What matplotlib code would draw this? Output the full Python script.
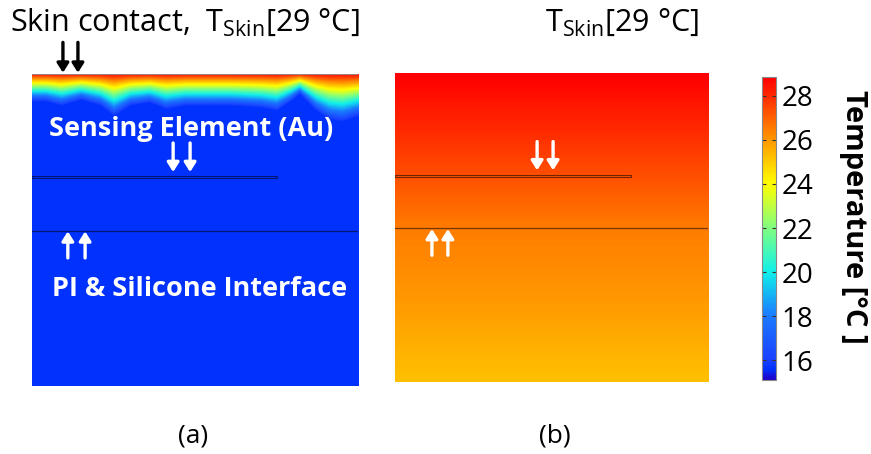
import numpy as np
import matplotlib
matplotlib.use("Agg")
import matplotlib.pyplot as plt
from matplotlib.colors import LinearSegmentedColormap, Normalize
from matplotlib.patches import Rectangle

plt.rcParams['font.family'] = ['Open Sans', 'DejaVu Sans']
plt.rcParams['mathtext.fontset'] = 'custom'
plt.rcParams['mathtext.rm'] = 'Open Sans'

# temperature range of the colour scale
t_min, t_max = 15.1, 28.85
cbar_ticks = [16, 18, 20, 22, 24, 26, 28]

# rainbow scale (temperature -> colour)
cmap_temps = [15.1, 15.6, 16.0, 18.0, 20.0, 22.0, 24.0, 26.0, 28.0, 28.85]
cmap_colors = ['#1e00c8', '#0033ff', '#1a40ff', '#1a7aff', '#10f0ea',
               '#80ff80', '#ffff00', '#ff9900', '#ff2a00', '#ff0000']

# (a) depth of the heated front below the skin surface, along the width
front_x = [0.0, 0.04, 0.09, 0.15, 0.21, 0.25, 0.30, 0.36, 0.41, 0.47,
           0.52, 0.61, 0.70, 0.75, 0.79, 0.82, 0.87, 0.91, 0.95, 1.0]
front_depth = [0.090, 0.090, 0.104, 0.085, 0.104, 0.138, 0.104, 0.094, 0.115, 0.104,
               0.104, 0.104, 0.110, 0.120, 0.092, 0.066, 0.120, 0.148, 0.156, 0.138]
t_skin = 28.85
t_base_a = 15.6

# (b) vertical temperature profile (depth from skin surface -> temperature)
prof_depth = [0.0, 0.18, 0.335, 0.505, 0.735, 1.0]
prof_temp = [28.85, 28.0, 27.3, 26.5, 26.0, 25.2]

# layer geometry (normalised units, y = 1 is the skin surface)
sensor_y = 0.668
sensor_len = 0.753
interface_y = 0.497

cmap = LinearSegmentedColormap.from_list(
    'rainbow_t', list(zip([(t - t_min) / (t_max - t_min) for t in cmap_temps], cmap_colors)))
norm = Normalize(t_min, t_max)

fig = plt.figure(figsize=(8.71, 4.54), dpi=100)
ax_a = fig.add_axes([0.0367, 0.1498, 0.3743, 0.688])
ax_b = fig.add_axes([0.4535, 0.1586, 0.3594, 0.6806])
cax = fig.add_axes([0.8749, 0.163, 0.0161, 0.667])

nx, ny = 400, 400
xs = np.linspace(0, 1, nx)
depth = np.linspace(0, 1, ny)[:, None]

# field (a): steep gradient just below the surface
front = np.interp(xs, front_x, front_depth)[None, :]
frac = np.clip(1 - depth / front, 0, 1) ** 1.1
field_a = t_base_a + (t_skin - t_base_a) * frac

# field (b): smooth decay with depth
field_b = np.repeat(np.interp(depth[:, 0], prof_depth, prof_temp)[:, None], nx, axis=1)

for ax, field in [(ax_a, field_a), (ax_b, field_b)]:
    ax.imshow(field, cmap=cmap, norm=norm, extent=[0, 1, 0, 1],
              origin='upper', aspect='auto', interpolation='bilinear')
    ax.add_patch(Rectangle((0, sensor_y - 0.003), sensor_len, 0.006, facecolor='none',
                           edgecolor='black', alpha=0.55, lw=0.8))
    ax.axhline(interface_y, color='black', alpha=0.55, lw=0.9)
    ax.set_xlim(0, 1)
    ax.set_ylim(0, 1)
    ax.axis('off')

ax_a.axhline(1.0, color='#a08080', lw=0.8)


def arrow_pair(ax, xs_, y0, y1, color):
    for x in xs_:
        ax.annotate('', xy=(x, y1), xytext=(x, y0), annotation_clip=False,
                    arrowprops=dict(arrowstyle='-|>,head_length=0.55,head_width=0.35',
                                    color=color, lw=2.4, shrinkA=0, shrinkB=0))


arrow_pair(ax_a, [0.095, 0.141], 1.10, 1.003, 'black')
arrow_pair(ax_a, [0.433, 0.485], 0.778, 0.685, 'white')
arrow_pair(ax_a, [0.110, 0.163], 0.41, 0.495, 'white')
arrow_pair(ax_b, [0.454, 0.505], 0.778, 0.685, 'white')
arrow_pair(ax_b, [0.118, 0.169], 0.41, 0.495, 'white')

ax_a.text(0.052, 0.822, 'Sensing Element (Au)', color='white', fontsize=19.5,
          fontweight='bold', ha='left', va='center', transform=ax_a.transAxes)
ax_a.text(0.060, 0.312, 'PI & Silicone Interface', color='white', fontsize=19.5,
          fontweight='bold', ha='left', va='center', transform=ax_a.transAxes)

skin_label = r'$\mathregular{T_{Skin}}$[29 °C]'
fig.text(10 / 871, 1 - 31 / 454, 'Skin contact,  ' + skin_label, fontsize=22,
         ha='left', va='baseline')
fig.text(545 / 871, 1 - 31 / 454, skin_label, fontsize=22, ha='left', va='baseline')
fig.text(193 / 871, 1 - 436 / 454, '(a)', fontsize=19, ha='center', va='center')
fig.text(555 / 871, 1 - 436 / 454, '(b)', fontsize=19, ha='center', va='center')

cb = fig.colorbar(plt.cm.ScalarMappable(norm=norm, cmap=cmap), cax=cax, ticks=cbar_ticks)
cb.outline.set_edgecolor('#888888')
cb.outline.set_linewidth(0.8)
cax.tick_params(direction='in', length=3, width=0.8, color='#333333', labelsize=20,
                left=True, right=True, pad=4)
fig.text(853 / 871, 1 - 217 / 454, 'Temperature [°C ]', rotation=-90, fontsize=21,
         fontweight='bold', ha='center', va='center')

fig.savefig('out.png', dpi=100)
